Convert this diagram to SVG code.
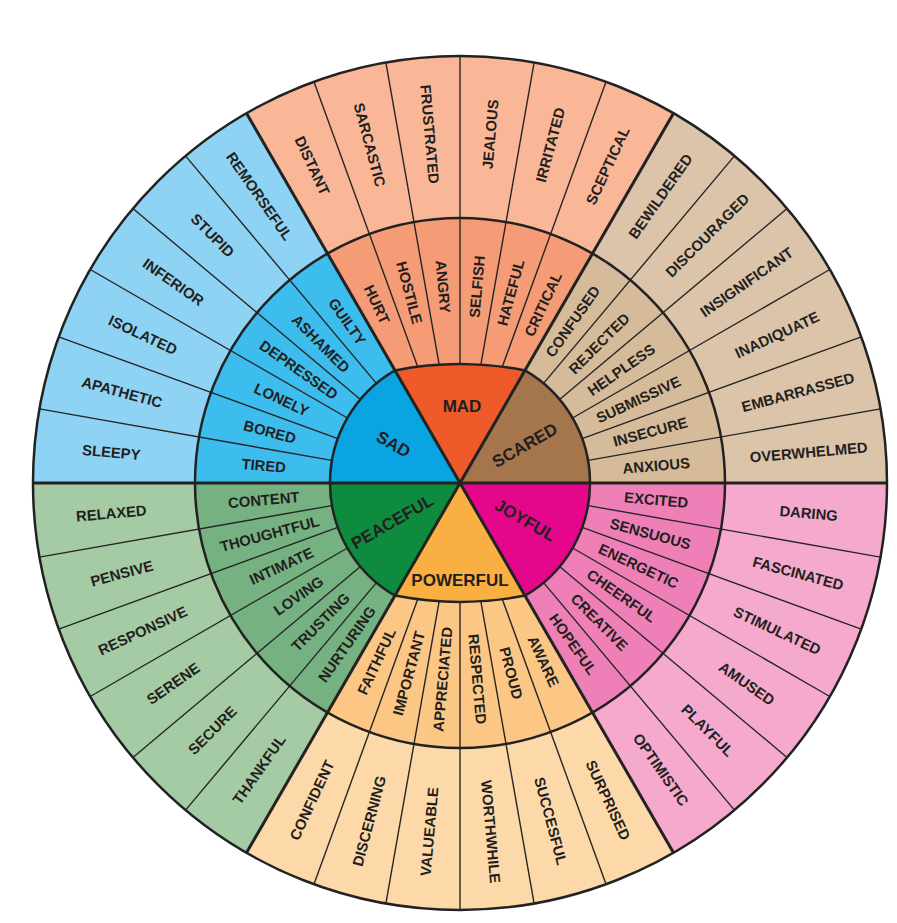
<svg xmlns="http://www.w3.org/2000/svg" width="897" height="923" viewBox="0 0 897 923">
<style>
.t{font-family:"Liberation Sans",Arial,sans-serif;font-weight:bold;font-size:14.8px;fill:#231f20;text-anchor:middle;dominant-baseline:central}
.c{font-size:17px}
.thin{stroke:#262626;stroke-width:1.4}
.thick{stroke:#222;stroke-width:3}
.ring{fill:none;stroke:#222;stroke-width:2.5}
</style>
<rect width="897" height="923" fill="#fff"/>

<g id="mad">
<path d="M460,483 L673.5,113.2 A427,427 0 0 0 246.5,113.2 Z" fill="#f9b797"/>
<path d="M460,483 L592.5,253.5 A265,265 0 0 0 327.5,253.5 Z" fill="#f59c77"/>
<path d="M460,483 L525,370.4 A340,340 0 0 0 395,370.4 Z" fill="#ef5a2a"/>
<text class="t c" x="462" y="406">MAD</text>
<text class="t" x="657" y="483" transform="rotate(-85 460 483)">SELFISH</text>
<text class="t" x="657" y="483" transform="rotate(-75 460 483)">HATEFUL</text>
<text class="t" x="657" y="483" transform="rotate(-65 460 483)">CRITICAL</text>
<text class="t" x="263" y="483" transform="rotate(85 460 483)">ANGRY</text>
<text class="t" x="263" y="483" transform="rotate(75 460 483)">HOSTILE</text>
<text class="t" x="263" y="483" transform="rotate(65 460 483)">HURT</text>
<text class="t" x="810" y="483" transform="rotate(-85 460 483)">JEALOUS</text>
<text class="t" x="810" y="483" transform="rotate(-75 460 483)">IRRITATED</text>
<text class="t" x="810" y="483" transform="rotate(-65 460 483)">SCEPTICAL</text>
<text class="t" x="110" y="483" transform="rotate(85 460 483)">FRUSTRATED</text>
<text class="t" x="110" y="483" transform="rotate(75 460 483)">SARCASTIC</text>
<text class="t" x="110" y="483" transform="rotate(65 460 483)">DISTANT</text>
</g>

<g id="scared">
<path d="M460,483 L887,483 A427,427 0 0 0 673.5,113.2 Z" fill="#dbc4aa"/>
<path d="M460,483 L725,483 A265,265 0 0 0 592.5,253.5 Z" fill="#d5bb99"/>
<path d="M460,483 L590,483 A130,130 0 0 0 525,370.4 Z" fill="#a5754b"/>
<text class="t c" x="535" y="483" transform="rotate(-30 460 483)">SCARED</text>
<text class="t" x="657" y="483" transform="rotate(-55 460 483)">CONFUSED</text>
<text class="t" x="657" y="483" transform="rotate(-45 460 483)">REJECTED</text>
<text class="t" x="657" y="483" transform="rotate(-35 460 483)">HELPLESS</text>
<text class="t" x="657" y="483" transform="rotate(-25 460 483)">SUBMISSIVE</text>
<text class="t" x="657" y="483" transform="rotate(-15 460 483)">INSECURE</text>
<text class="t" x="657" y="483" transform="rotate(-5 460 483)">ANXIOUS</text>
<text class="t" x="810" y="483" transform="rotate(-55 460 483)">BEWILDERED</text>
<text class="t" x="810" y="483" transform="rotate(-45 460 483)">DISCOURAGED</text>
<text class="t" x="810" y="483" transform="rotate(-35 460 483)">INSIGNIFICANT</text>
<text class="t" x="810" y="483" transform="rotate(-25 460 483)">INADIQUATE</text>
<text class="t" x="810" y="483" transform="rotate(-15 460 483)">EMBARRASSED</text>
<text class="t" x="810" y="483" transform="rotate(-5 460 483)">OVERWHELMED</text>
</g>

<g id="joyful">
<path d="M460,483 L673.5,852.8 A427,427 0 0 0 887,483 Z" fill="#f5aacd"/>
<path d="M460,483 L592.5,712.5 A265,265 0 0 0 725,483 Z" fill="#ee80b7"/>
<path d="M460,483 L525,595.6 A130,130 0 0 0 590,483 Z" fill="#e5078b"/>
<text class="t c" x="535" y="483" transform="rotate(30 460 483)">JOYFUL</text>
<text class="t" x="657" y="483" transform="rotate(5 460 483)">EXCITED</text>
<text class="t" x="657" y="483" transform="rotate(15 460 483)">SENSUOUS</text>
<text class="t" x="657" y="483" transform="rotate(25 460 483)">ENERGETIC</text>
<text class="t" x="657" y="483" transform="rotate(35 460 483)">CHEERFUL</text>
<text class="t" x="657" y="483" transform="rotate(45 460 483)">CREATIVE</text>
<text class="t" x="657" y="483" transform="rotate(55 460 483)">HOPEFUL</text>
<text class="t" x="810" y="483" transform="rotate(5 460 483)">DARING</text>
<text class="t" x="810" y="483" transform="rotate(15 460 483)">FASCINATED</text>
<text class="t" x="810" y="483" transform="rotate(25 460 483)">STIMULATED</text>
<text class="t" x="810" y="483" transform="rotate(35 460 483)">AMUSED</text>
<text class="t" x="810" y="483" transform="rotate(45 460 483)">PLAYFUL</text>
<text class="t" x="810" y="483" transform="rotate(55 460 483)">OPTIMISTIC</text>
</g>

<g id="powerful">
<path d="M460,483 L246.5,852.8 A427,427 0 0 0 673.5,852.8 Z" fill="#fdd9a9"/>
<path d="M460,483 L327.5,712.5 A265,265 0 0 0 592.5,712.5 Z" fill="#fcc784"/>
<path d="M460,483 L395,595.6 A340,340 0 0 0 525,595.6 Z" fill="#f9af41"/>
<text class="t c" x="460" y="580">POWERFUL</text>
<text class="t" x="263" y="483" transform="rotate(-65 460 483)">FAITHFUL</text>
<text class="t" x="263" y="483" transform="rotate(-75 460 483)">IMPORTANT</text>
<text class="t" x="263" y="483" transform="rotate(-85 460 483)">APPRECIATED</text>
<text class="t" x="657" y="483" transform="rotate(85 460 483)">RESPECTED</text>
<text class="t" x="657" y="483" transform="rotate(75 460 483)">PROUD</text>
<text class="t" x="657" y="483" transform="rotate(65 460 483)">AWARE</text>
<text class="t" x="110" y="483" transform="rotate(-65 460 483)">CONFIDENT</text>
<text class="t" x="110" y="483" transform="rotate(-75 460 483)">DISCERNING</text>
<text class="t" x="110" y="483" transform="rotate(-85 460 483)">VALUEABLE</text>
<text class="t" x="810" y="483" transform="rotate(85 460 483)">WORTHWHILE</text>
<text class="t" x="810" y="483" transform="rotate(75 460 483)">SUCCESFUL</text>
<text class="t" x="810" y="483" transform="rotate(65 460 483)">SURPRISED</text>
</g>

<g id="peaceful">
<path d="M460,483 L33,483 A427,427 0 0 0 246.5,852.8 Z" fill="#a5cba5"/>
<path d="M460,483 L195,483 A265,265 0 0 0 327.5,712.5 Z" fill="#75b181"/>
<path d="M460,483 L330,483 A130,130 0 0 0 395,595.6 Z" fill="#0e8b3f"/>
<text class="t c" x="382" y="483" transform="rotate(-30 460 483)">PEACEFUL</text>
<text class="t" x="263" y="483" transform="rotate(-5 460 483)">CONTENT</text>
<text class="t" x="263" y="483" transform="rotate(-15 460 483)">THOUGHTFUL</text>
<text class="t" x="263" y="483" transform="rotate(-25 460 483)">INTIMATE</text>
<text class="t" x="263" y="483" transform="rotate(-35 460 483)">LOVING</text>
<text class="t" x="263" y="483" transform="rotate(-45 460 483)">TRUSTING</text>
<text class="t" x="263" y="483" transform="rotate(-55 460 483)">NURTURING</text>
<text class="t" x="110" y="483" transform="rotate(-5 460 483)">RELAXED</text>
<text class="t" x="110" y="483" transform="rotate(-15 460 483)">PENSIVE</text>
<text class="t" x="110" y="483" transform="rotate(-25 460 483)">RESPONSIVE</text>
<text class="t" x="110" y="483" transform="rotate(-35 460 483)">SERENE</text>
<text class="t" x="110" y="483" transform="rotate(-45 460 483)">SECURE</text>
<text class="t" x="110" y="483" transform="rotate(-55 460 483)">THANKFUL</text>
</g>

<g id="sad">
<path d="M460,483 L246.5,113.2 A427,427 0 0 0 33,483 Z" fill="#8fd3f4"/>
<path d="M460,483 L327.5,253.5 A265,265 0 0 0 195,483 Z" fill="#3cbdee"/>
<path d="M460,483 L395,370.4 A130,130 0 0 0 330,483 Z" fill="#0ba4e3"/>
<text class="t c" x="383" y="483" transform="rotate(30 460 483)">SAD</text>
<text class="t" x="263" y="483" transform="rotate(5 460 483)">TIRED</text>
<text class="t" x="263" y="483" transform="rotate(15 460 483)">BORED</text>
<text class="t" x="263" y="483" transform="rotate(25 460 483)">LONELY</text>
<text class="t" x="263" y="483" transform="rotate(35 460 483)">DEPRESSED</text>
<text class="t" x="263" y="483" transform="rotate(45 460 483)">ASHAMED</text>
<text class="t" x="263" y="483" transform="rotate(55 460 483)">GUILTY</text>
<text class="t" x="110" y="483" transform="rotate(5 460 483)">SLEEPY</text>
<text class="t" x="110" y="483" transform="rotate(15 460 483)">APATHETIC</text>
<text class="t" x="110" y="483" transform="rotate(25 460 483)">ISOLATED</text>
<text class="t" x="110" y="483" transform="rotate(35 460 483)">INFERIOR</text>
<text class="t" x="110" y="483" transform="rotate(45 460 483)">STUPID</text>
<text class="t" x="110" y="483" transform="rotate(55 460 483)">REMORSEFUL</text>
</g>

<g id="connectors">
<g class="thin">
<line x1="590" y1="483" x2="887" y2="483" transform="rotate(-10 460 483)"/>
<line x1="590" y1="483" x2="887" y2="483" transform="rotate(-20 460 483)"/>
<line x1="590" y1="483" x2="887" y2="483" transform="rotate(-30 460 483)"/>
<line x1="590" y1="483" x2="887" y2="483" transform="rotate(-40 460 483)"/>
<line x1="590" y1="483" x2="887" y2="483" transform="rotate(-50 460 483)"/>
<line x1="583.7" y1="483" x2="887" y2="483" transform="rotate(-70 460 483)"/>
<line x1="580.1" y1="483" x2="887" y2="483" transform="rotate(-80 460 483)"/>
<line x1="578.9" y1="483" x2="887" y2="483" transform="rotate(-90 460 483)"/>
<line x1="580.1" y1="483" x2="887" y2="483" transform="rotate(-100 460 483)"/>
<line x1="583.7" y1="483" x2="887" y2="483" transform="rotate(-110 460 483)"/>
<line x1="590" y1="483" x2="887" y2="483" transform="rotate(-130 460 483)"/>
<line x1="590" y1="483" x2="887" y2="483" transform="rotate(-140 460 483)"/>
<line x1="590" y1="483" x2="887" y2="483" transform="rotate(-150 460 483)"/>
<line x1="590" y1="483" x2="887" y2="483" transform="rotate(-160 460 483)"/>
<line x1="590" y1="483" x2="887" y2="483" transform="rotate(-170 460 483)"/>
<line x1="590" y1="483" x2="887" y2="483" transform="rotate(-190 460 483)"/>
<line x1="590" y1="483" x2="887" y2="483" transform="rotate(-200 460 483)"/>
<line x1="590" y1="483" x2="887" y2="483" transform="rotate(-210 460 483)"/>
<line x1="590" y1="483" x2="887" y2="483" transform="rotate(-220 460 483)"/>
<line x1="590" y1="483" x2="887" y2="483" transform="rotate(-230 460 483)"/>
<line x1="583.7" y1="483" x2="887" y2="483" transform="rotate(-250 460 483)"/>
<line x1="580.1" y1="483" x2="887" y2="483" transform="rotate(-260 460 483)"/>
<line x1="578.9" y1="483" x2="887" y2="483" transform="rotate(-270 460 483)"/>
<line x1="580.1" y1="483" x2="887" y2="483" transform="rotate(-280 460 483)"/>
<line x1="583.7" y1="483" x2="887" y2="483" transform="rotate(-290 460 483)"/>
<line x1="590" y1="483" x2="887" y2="483" transform="rotate(-310 460 483)"/>
<line x1="590" y1="483" x2="887" y2="483" transform="rotate(-320 460 483)"/>
<line x1="590" y1="483" x2="887" y2="483" transform="rotate(-330 460 483)"/>
<line x1="590" y1="483" x2="887" y2="483" transform="rotate(-340 460 483)"/>
<line x1="590" y1="483" x2="887" y2="483" transform="rotate(-350 460 483)"/>
</g>
<g class="thick">
<line x1="33" y1="483" x2="887" y2="483"/>
<line x1="33" y1="483" x2="887" y2="483" transform="rotate(-60 460 483)"/>
<line x1="33" y1="483" x2="887" y2="483" transform="rotate(-120 460 483)"/>
</g>
<path class="ring" d="M590,483 A130,130 0 0 0 525,370.4 A340,340 0 0 0 395,370.4 A130,130 0 0 0 330,483 A130,130 0 0 0 395,595.6 A340,340 0 0 0 525,595.6 A130,130 0 0 0 590,483 Z" stroke-width="3"/>
<circle class="ring" cx="460" cy="483" r="265"/>
<circle class="ring" cx="460" cy="483" r="427" stroke-width="3"/>
</g>
</svg>
